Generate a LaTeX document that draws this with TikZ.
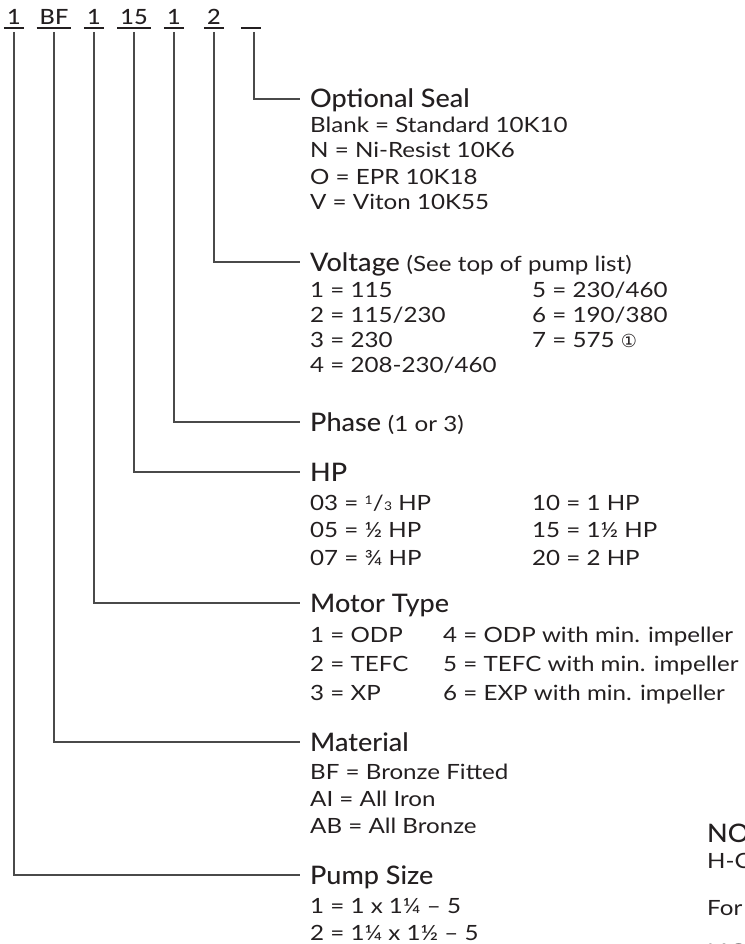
\documentclass[tikz,border=0pt]{standalone}
\usepackage{fontspec}
\setmainfont{Lato}[FakeStretch=1.15]
\newfontfamily\headfont{Lato Medium}[FakeStretch=1.06]
\newfontfamily\codefont{Lato Medium}[FakeStretch=1.12]
\newfontfamily\symfont{DejaVu Sans}
\definecolor{ink}{HTML}{231F20}
\definecolor{rulecol}{HTML}{4A4A4A}
\newcommand\myThird{\raisebox{6pt}{\fontsize{12}{12}\selectfont 1}\kern0.3pt/\kern0.3pt{\fontsize{12}{12}\selectfont 3}}
\begin{document}
\begin{tikzpicture}[x=1pt,y=-1pt,
  code/.style={anchor=base,inner ysep=0pt,inner xsep=3pt,text=ink,font=\codefont\fontsize{21}{21}\selectfont},
  uline/.style={draw=ink,line width=1.3pt},
  conn/.style={draw=rulecol,line width=1.2pt},
  head/.style={anchor=base west,inner sep=0pt,text=ink,font=\headfont\fontsize{25.5}{30}\selectfont},
  body/.style={anchor=base west,inner sep=0pt,text=ink,font=\fontsize{21}{27}\selectfont}
]
\clip (0,0) rectangle (744,944);
% code row
\node[code] (c1) at (14,25) {1};
\node[code] (c2) at (54,25) {BF};
\node[code] (c3) at (94,25) {1};
\node[code] (c4) at (134,25) {15};
\node[code] (c5) at (174,25) {1};
\node[code] (c6) at (214,25) {2};
\node[code,minimum width=20pt] (c7) at (251,25) {};
\foreach \c in {c1,c2,c3,c4,c5,c6,c7}{
  \draw[uline] ([yshift=-3pt]\c.base west) -- ([yshift=-3pt]\c.base east);
}
% start points of connectors
\coordinate (s1) at ([yshift=-7pt]c1.base);
\coordinate (s2) at ([yshift=-7pt]c2.base);
\coordinate (s3) at ([yshift=-7pt]c3.base);
\coordinate (s4) at ([yshift=-7pt]c4.base);
\coordinate (s5) at ([yshift=-7pt]c5.base);
\coordinate (s6) at ([yshift=-7pt]c6.base);
\coordinate (s7) at ([xshift=3pt,yshift=-7pt]c7.base);
% end points
\coordinate (e7) at (300,99);
\coordinate (e6) at (300,262);
\coordinate (e5) at (300,422);
\coordinate (e4) at (300,472);
\coordinate (e3) at (300,603);
\coordinate (e2) at (300,742);
\coordinate (e1) at (300,875);
\foreach \i in {1,...,7}{ \draw[conn] (s\i) |- (e\i); }
% Optional Seal
\node[head] (hseal) at (310,108) {Optional Seal};
\node[body] (seal1) at (310,133) {Blank = Standard 10K10};
\node[body] (seal2) at (310,158) {N = Ni-Resist 10K6};
\node[body] (seal3) at (310,184) {O = EPR 10K18};
\node[body] (seal4) at (310,209) {V = Viton 10K55};
% Voltage
\node[head] (hvolt) at (310,271) {Voltage {\fontsize{21}{27}\selectfont\rmfamily (See top of pump list)}};
\node[body] (v1) at (310,297) {1 = 115};
\node[body] (v2) at (310,322) {2 = 115/230};
\node[body] (v3) at (310,347) {3 = 230};
\node[body] (v4) at (310,372) {4 = 208-230/460};
\node[body] (v5) at (532,297) {5 = 230/460};
\node[body] (v6) at (532,322) {6 = 190/380};
\node[body] (v7) at (532,347) {7 = 575 {\symfont\fontsize{18}{18}\selectfont ①}};
% Phase
\node[head] (hphase) at (310,431) {Phase {\fontsize{21}{27}\selectfont\rmfamily (1 or 3)}};
% HP
\node[head] (hhp) at (310,481) {HP};
\node[body] (hp1) at (310,510) {03 = \myThird\ HP};
\node[body] (hp2) at (310,537) {05 = ½ HP};
\node[body] (hp3) at (310,565) {07 = ¾ HP};
\node[body] (hp4) at (532,510) {10 = 1 HP};
\node[body] (hp5) at (532,537) {15 = 1½ HP};
\node[body] (hp6) at (532,565) {20 = 2 HP};
% Motor Type
\node[head] (hmot) at (310,612) {Motor Type};
\node[body] (m1) at (310,642) {1 = ODP};
\node[body] (m2) at (310,671) {2 = TEFC};
\node[body] (m3) at (310,700) {3 = XP};
\node[body] (m4) at (443,642) {4 = ODP with min. impeller};
\node[body] (m5) at (443,671) {5 = TEFC with min. impeller};
\node[body] (m6) at (443,700) {6 = EXP with min. impeller};
% Material
\node[head] (hmat) at (310,751) {Material};
\node[body] (mat1) at (310,779) {BF = Bronze Fitted};
\node[body] (mat2) at (310,806) {AI = All Iron};
\node[body] (mat3) at (310,833) {AB = All Bronze};
% Pump Size
\node[head] (hpump) at (310,884) {Pump Size};
\node[body] (p1) at (310,913) {1 = 1 x 1¼ – 5};
\node[body] (p2) at (310,940) {2 = 1¼ x 1½ – 5};
% Note fragments at right edge
\node[head] (n1) at (707,842) {NO};
\node[body] (n2) at (707,868) {H-C};
\node[body] (n3) at (707,915) {For};
\node[head] (n4) at (707,962) {NO};
\end{tikzpicture}
\end{document}
